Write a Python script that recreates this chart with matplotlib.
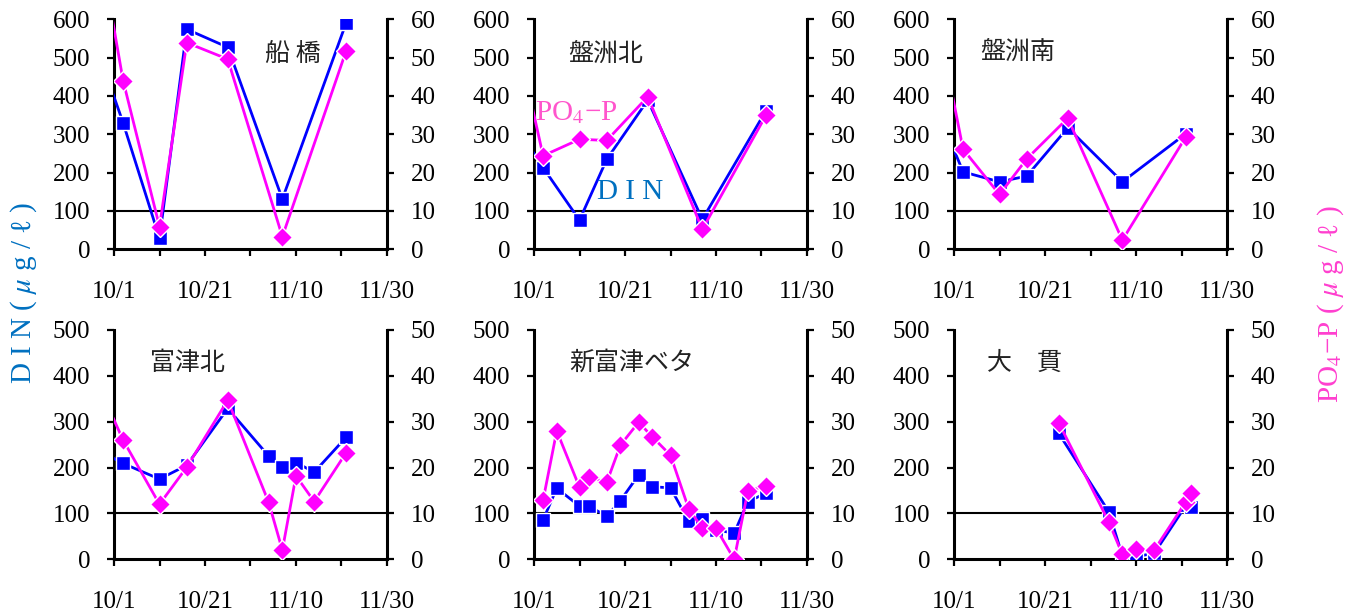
import datetime as dt
import matplotlib
matplotlib.use("Agg")
import matplotlib.pyplot as plt

plt.rcParams['font.family'] = ['Liberation Serif', 'Noto Sans CJK JP', 'DejaVu Sans']
plt.rcParams['mathtext.fontset'] = 'stix'

# ---------------- data ----------------
stations = ["船 橋", "盤洲北", "盤洲南", "富津北", "新富津ベタ", "大　貫"]

dates_funabashi = ["9/28", "10/3", "10/11", "10/17", "10/26", "11/7", "11/21"]
din_funabashi = [500, 330, 29, 574, 527, 131, 590]
po4_funabashi = [78, 44, 5.9, 53.9, 49.6, 3.3, 51.7]

dates_banzu_n = ["9/28", "10/3", "10/11", "10/17", "10/26", "11/7", "11/21"]
din_banzu_n = [305, 213, 76, 235, 389, 78, 362]
po4_banzu_n = [51, 24.4, 28.7, 28.4, 39.8, 5.2, 35.0]

dates_banzu_s = ["9/28", "10/3", "10/11", "10/17", "10/26", "11/7", "11/21"]
din_banzu_s = [345, 202, 176, 191, 317, 176, 302]
po4_banzu_s = [56, 26.1, 14.3, 23.6, 34.2, 2.4, 29.4]

dates_futtsu_n = ["9/28", "10/3", "10/11", "10/17", "10/26", "11/4", "11/7", "11/10", "11/14", "11/21"]
din_futtsu_n = [236, 209, 175, 205, 329, 225, 202, 211, 190, 266]
po4_futtsu_n = [37, 26.0, 12.0, 20.1, 34.7, 12.4, 2.0, 18.2, 12.6, 23.2]

dates_shinfuttsu = ["10/3", "10/6", "10/11", "10/13", "10/17", "10/20", "10/24", "10/27",
                    "10/31", "11/4", "11/7", "11/10", "11/14", "11/17", "11/21"]
din_shinfuttsu = [86, 155, 116, 116, 94, 128, 184, 158, 156, 83, 88, 64, 57, 126, 144]
po4_shinfuttsu = [12.9, 28.0, 15.7, 17.9, 16.8, 24.9, 29.9, 26.7, 22.7, 11.0, 6.8, 6.8, 0.0, 14.9, 16.0]

dates_onuki = ["10/24", "11/4", "11/7", "11/10", "11/14", "11/21", "11/22"]
din_onuki = [275, 104, 8, 6, 13, 118, 115]
po4_onuki = [29.8, 8.2, 1.1, 2.2, 2.0, 12.6, 14.4]

xtick_labels = ["10/1", "10/21", "11/10", "11/30"]
din_max_top, po4_max_top = 600, 60
din_max_bot, po4_max_bot = 500, 50
ref_level = 100

panels = [
    (dates_funabashi, din_funabashi, po4_funabashi),
    (dates_banzu_n, din_banzu_n, po4_banzu_n),
    (dates_banzu_s, din_banzu_s, po4_banzu_s),
    (dates_futtsu_n, din_futtsu_n, po4_futtsu_n),
    (dates_shinfuttsu, din_shinfuttsu, po4_shinfuttsu),
    (dates_onuki, din_onuki, po4_onuki),
]

base = dt.date(2000, 10, 1)


def to_day(s):
    m, d = map(int, s.split("/"))
    return (dt.date(2000, m, d) - base).days


# ---------------- figure ----------------
W, H = 1364, 614
fig = plt.figure(figsize=(W / 100, H / 100), dpi=100)

col_left = [114, 534, 954]
col_w = 273
row_top = [19.3, 330]
row_h = [230, 229.3]

name_pos = [(0.654, 0.849), (0.262, 0.849), (0.234, 0.858),
            (0.271, 0.855), (0.357, 0.856), (0.26, 0.856)]

BLUE = "#0000FF"
MAG = "#FF00FF"
SPW = 2.2

for i, (dates, din, po4) in enumerate(panels):
    r, c = divmod(i, 3)
    left = col_left[c] / W
    bottom = 1 - (row_top[r] + row_h[r]) / H
    ax = fig.add_axes([left, bottom, col_w / W, row_h[r] / H])
    ax2 = ax.twinx()
    days = [to_day(s) for s in dates]
    dmax = din_max_top if r == 0 else din_max_bot
    pmax = po4_max_top if r == 0 else po4_max_bot

    ax.axhline(ref_level, color="black", lw=1.5, zorder=1)
    ax.plot(days, din, color=BLUE, lw=2.0, marker="s", ms=10.5,
            mfc=BLUE, mec="white", mew=1.0, zorder=3)
    ax2.plot(days, po4, color=MAG, lw=2.0, marker="D", ms=10,
             mfc=MAG, mec="white", mew=1.0, zorder=3)

    ax.set_xlim(0, 60)
    ax.set_ylim(0, dmax)
    ax2.set_ylim(0, pmax)
    ax.set_yticks(range(0, dmax + 1, 100))
    ax2.set_yticks(range(0, pmax + 1, 10))
    ax.set_xticks([0, 20, 40, 60])
    ax.set_xticklabels(xtick_labels)
    ax.set_xticks([10, 30, 50], minor=True)

    for a in (ax, ax2):
        a.spines["top"].set_visible(False)
        for s in ("left", "right", "bottom"):
            a.spines[s].set_linewidth(SPW)
        a.patch.set_visible(False)
    ax.spines["right"].set_visible(False)
    ax2.spines["left"].set_visible(False)
    ax2.spines["bottom"].set_visible(False)

    ax.tick_params(axis="y", direction="out", length=5, width=1.6, pad=12, labelsize=18)
    ax2.tick_params(axis="y", direction="out", length=5, width=1.6, pad=12, labelsize=18)
    ax.tick_params(axis="x", which="both", direction="out", length=5, width=1.6)
    ax.tick_params(axis="x", which="major", pad=18, labelsize=18)

    ax.text(name_pos[i][0], name_pos[i][1], stations[i], transform=ax.transAxes,
            ha="center", va="center", fontsize=18, color="#222222",
            family=["Noto Sans CJK JP", "DejaVu Sans"])

    if i == 1:
        ax.text(0.154, 0.594, "PO$_4$\u2212P", transform=ax.transAxes, ha="center",
                va="center", fontsize=21, color="#FF55CC")
        ax.text(0.352, 0.250, "D I N", transform=ax.transAxes, ha="center",
                va="center", fontsize=21, color="#0070C0")

fig.text(24 / W, 1 - 293 / H, "D I N ( $\\mu$ g / ℓ )", rotation=90, ha="center", va="center",
         fontsize=21, color="#0070C0")
fig.text(1331 / W, 1 - 304 / H, "PO$_4$\u2212P ( $\\mu$ g / ℓ )", rotation=90, ha="center",
         va="center", fontsize=21, color="#FF3FCF")

fig.savefig("out.png", dpi=100)
